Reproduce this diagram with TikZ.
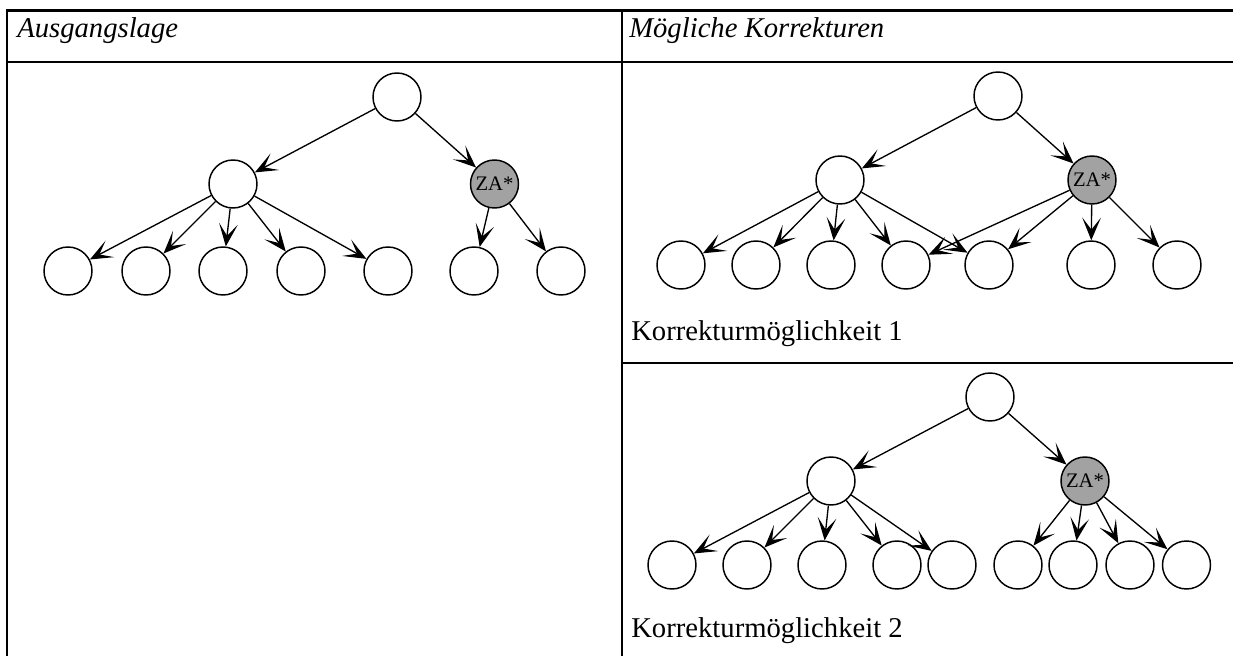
\documentclass[tikz,border=0pt]{standalone}
\usepackage{fontspec}
\setmainfont{Liberation Serif}
\usetikzlibrary{arrows.meta}
\definecolor{zagrau}{RGB}{162,162,162}

\begin{document}
\begin{tikzpicture}[x=0.75pt, y=-0.75pt,
    knoten/.style={circle, draw, line width=1.1pt, inner sep=0pt, minimum size=36pt},
    zaknoten/.style={knoten, fill=zagrau, font=\fontsize{15.5}{15.5}\selectfont},
    kante/.style={line width=1pt, -{Stealth[length=17pt, width=14pt, inset=9pt]}},
    rahmen/.style={line width=2pt},
    kopf/.style={anchor=base west, inner sep=0pt, font=\fontsize{21.5}{24}\selectfont\itshape},
    beschriftung/.style={anchor=base west, inner sep=0pt, font=\fontsize{21.5}{24}\selectfont}]
   \useasboundingbox (0,0) rectangle (1233,656);
   % Tabelle
   \draw[rahmen] (7,656) -- (7,10.7) -- (1233,10.7);
   \draw[rahmen] (7,62) -- (1233,62);
   \draw[rahmen] (622,10.7) -- (622,656);
   \draw[rahmen] (622,363) -- (1233,363);
   \node[kopf] (ausgang) at (17,38) {Ausgangslage};
   \node[kopf] (korrekturen) at (629,38) {Mögliche Korrekturen};
   \node[beschriftung] (moeglich1) at (631,340) {Korrekturmöglichkeit 1};
   \node[beschriftung] (moeglich2) at (631,637) {Korrekturmöglichkeit 2};
   % Ausgangslage
   \node[knoten] (a0) at (397,97) {};
   \node[knoten] (a1) at (233,184) {};
   \node[zaknoten] (az) at (494.5,184) {ZA*};
   \node[knoten] (a11) at (68,271) {};
   \node[knoten] (a12) at (146,271) {};
   \node[knoten] (a13) at (223,271) {};
   \node[knoten] (a14) at (301,271) {};
   \node[knoten] (a15) at (388,271) {};
   \node[knoten] (az1) at (474,271) {};
   \node[knoten] (az2) at (561,271) {};
   \draw[kante] (a0) to (a1);
   \draw[kante] (a0) to (az);
   \draw[kante] (a1) to (a11);
   \draw[kante] (a1) to (a12);
   \draw[kante] (a1) to (a13);
   \draw[kante] (a1) to (a14);
   \draw[kante] (a1) to (a15);
   \draw[kante] (az) to (az1);
   \draw[kante] (az) to (az2);
   % Korrekturmoeglichkeit 1
   \node[knoten] (b0) at (998,96) {};
   \node[knoten] (b1) at (840,180) {};
   \node[zaknoten] (bz) at (1092,180) {ZA*};
   \node[knoten] (b11) at (681,265) {};
   \node[knoten] (b12) at (756,265) {};
   \node[knoten] (b13) at (831,265) {};
   \node[knoten] (b14) at (906,265) {};
   \node[knoten] (b15) at (989,265) {};
   \node[knoten] (bz1) at (1091,265) {};
   \node[knoten] (bz2) at (1177,265) {};
   \draw[kante] (b0) to (b1);
   \draw[kante] (b0) to (bz);
   \draw[kante] (b1) to (b11);
   \draw[kante] (b1) to (b12);
   \draw[kante] (b1) to (b13);
   \draw[kante] (b1) to (b14);
   \draw[kante] (b1) to (b15);
   \draw[kante] (bz) to (b14);
   \draw[kante] (bz) to (b15);
   \draw[kante] (bz) to (bz1);
   \draw[kante] (bz) to (bz2);
   % Korrekturmoeglichkeit 2
   \node[knoten] (c0) at (990,397) {};
   \node[knoten] (c1) at (831,481) {};
   \node[zaknoten] (cz) at (1085,481) {ZA*};
   \node[knoten] (c11) at (672,565) {};
   \node[knoten] (c12) at (747,565) {};
   \node[knoten] (c13) at (822,565) {};
   \node[knoten] (c14) at (897,565) {};
   \node[knoten] (c15) at (952,565) {};
   \node[knoten] (cz1) at (1018,565) {};
   \node[knoten] (cz2) at (1073,565) {};
   \node[knoten] (cz3) at (1130,565) {};
   \node[knoten] (cz4) at (1186.5,565) {};
   \draw[kante] (c0) to (c1);
   \draw[kante] (c0) to (cz);
   \draw[kante] (c1) to (c11);
   \draw[kante] (c1) to (c12);
   \draw[kante] (c1) to (c13);
   \draw[kante] (c1) to (c14);
   \draw[kante] (c1) to (c15);
   \draw[kante] (cz) to (cz1);
   \draw[kante] (cz) to (cz2);
   \draw[kante] (cz) to (cz3);
   \draw[kante] (cz) to (cz4);
\end{tikzpicture}
\end{document}
